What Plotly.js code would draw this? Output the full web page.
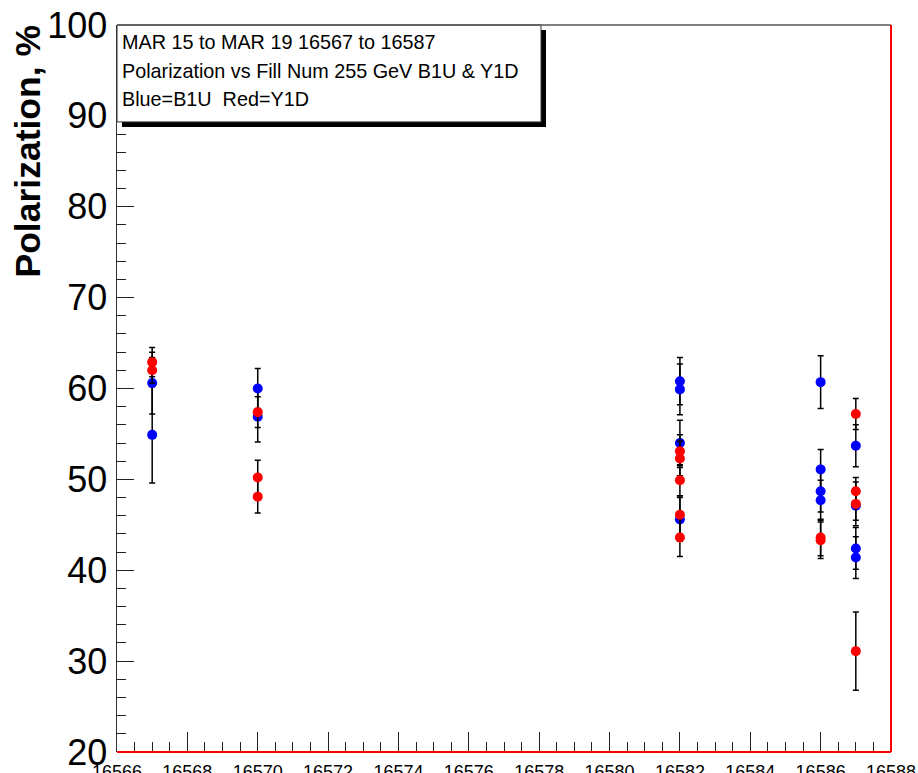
<!DOCTYPE html>
<html>
<head>
<meta charset="utf-8">
<script src="https://cdn.plot.ly/plotly-3.0.1.min.js"></script>
<style>html,body{margin:0;padding:0;background:#fff;}#chart{width:918px;height:773px;}</style>
</head>
<body>
<div id="chart"></div>
<script>
// Blue = B1U
const blueFill = [16567, 16567, 16570, 16570, 16582, 16582, 16582, 16582, 16586, 16586, 16586, 16586, 16587, 16587, 16587, 16587];
const bluePol  = [60.6, 54.9, 60.0, 56.9, 60.8, 59.9, 54.0, 45.6, 60.7, 51.1, 48.7, 47.7, 53.7, 47.1, 42.4, 41.4];
const blueErr  = [3.4, 5.3, 2.2, 2.8, 2.6, 2.8, 2.5, 2.4, 2.9, 2.2, 2.3, 2.2, 2.3, 1.6, 2.3, 2.3];
// Red = Y1D
const redFill = [16567, 16567, 16570, 16570, 16570, 16582, 16582, 16582, 16582, 16582, 16586, 16586, 16587, 16587, 16587, 16587];
const redPol  = [62.9, 62.0, 57.4, 50.2, 48.1, 53.1, 52.3, 49.9, 46.1, 43.6, 43.6, 43.3, 57.2, 48.7, 47.3, 31.1];
const redErr  = [1.6, 1.4, 1.7, 1.9, 1.8, 1.8, 1.9, 1.7, 2.1, 2.1, 2.0, 2.0, 1.7, 1.5, 2.4, 4.3];

const xTickVals = [16566, 16568, 16570, 16572, 16574, 16576, 16578, 16580, 16582, 16584, 16586, 16588];
const yTickVals = [20, 30, 40, 50, 60, 70, 80, 90, 100];
const infoLines = ["MAR 15 to MAR 19 16567 to 16587", "Polarization vs Fill Num 255 GeV B1U & Y1D", "Blue=B1U  Red=Y1D"];
const yTitle = "Polarization, %";

const W = 918, H = 773;
const L = 117, R = 891, T = 25, B = 752.5;
const px = v => (v - L) / (R - L);
const py = v => (B - v) / (B - T);

const font = "Liberation Sans, Arial, sans-serif";

const errStyle = {type: 'data', visible: true, color: '#000', thickness: 1.5, width: 3};

const traces = [
  {x: blueFill, y: bluePol, type: 'scatter', mode: 'markers', name: 'B1U',
   marker: {color: '#0000ff', size: 10}, error_y: Object.assign({array: blueErr}, errStyle)},
  {x: redFill, y: redPol, type: 'scatter', mode: 'markers', name: 'Y1D',
   marker: {color: '#ff0000', size: 10}, error_y: Object.assign({array: redErr}, errStyle)}
];

const lineY = [42.5, 71, 99.5];
const annotations = infoLines.map((t, i) => ({
  text: t, xref: 'paper', yref: 'paper', x: px(120), y: py(lineY[i]),
  xanchor: 'left', yanchor: 'middle', showarrow: false,
  font: {family: font, size: 19.8, color: '#000'}
}));
annotations.push({
  text: '<b>' + yTitle + '</b>', xref: 'paper', yref: 'paper',
  x: px(28), y: py(23), xanchor: 'center', yanchor: 'top', textangle: -90,
  showarrow: false, font: {family: font, size: 35.5, color: '#000'}
});

const shapes = [
  // shadow of info box
  {type: 'rect', xref: 'paper', yref: 'paper', x0: px(122), x1: px(546), y0: py(127), y1: py(30),
   fillcolor: '#000', line: {width: 0}, layer: 'above'},
  // info box
  {type: 'rect', xref: 'paper', yref: 'paper', x0: px(117), x1: px(541), y0: py(122), y1: py(25),
   fillcolor: '#fff', line: {color: '#333', width: 1}, layer: 'above'},
  // top frame
  {type: 'line', xref: 'paper', yref: 'paper', x0: 0, x1: 1, y0: 1, y1: 1,
   line: {color: '#555', width: 1.5}, layer: 'above'},
  // right frame
  {type: 'line', xref: 'paper', yref: 'paper', x0: 1, x1: 1, y0: 0, y1: 1,
   line: {color: '#ff0000', width: 2}, layer: 'above'},
  // bottom frame
  {type: 'line', xref: 'paper', yref: 'paper', x0: 0, x1: 1, y0: 0, y1: 0,
   line: {color: '#ff0000', width: 2}, layer: 'above'}
];

const layout = {
  width: W, height: H,
  margin: {l: L, r: W - R, t: T, b: H - B, pad: 0},
  paper_bgcolor: '#fff', plot_bgcolor: '#fff',
  showlegend: false,
  font: {family: font, color: '#000'},
  xaxis: {
    range: [16566, 16588], tickvals: xTickVals, tickformat: 'd',
    ticks: 'inside', ticklen: 20, tickwidth: 1, tickcolor: '#222',
    minor: {dtick: 0.5, tick0: 16566, ticks: 'inside', ticklen: 10, tickcolor: '#222', tickwidth: 1, showgrid: false},
    showgrid: false, zeroline: false,
    showline: false,
    tickfont: {family: font, size: 18, color: '#000'},
    ticklabelstandoff: 7,
    automargin: false, fixedrange: true
  },
  yaxis: {
    range: [20, 100], tickvals: yTickVals,
    ticks: 'inside', ticklen: 17, tickwidth: 1, tickcolor: '#222',
    minor: {dtick: 2, tick0: 20, ticks: 'inside', ticklen: 9, tickcolor: '#222', tickwidth: 1, showgrid: false},
    showgrid: false, zeroline: false,
    showline: true, linecolor: '#333', linewidth: 1.5,
    tickfont: {family: font, size: 36, color: '#000'},
    ticklabelstandoff: 1,
    automargin: false, fixedrange: true
  },
  annotations: annotations,
  shapes: shapes
};

Plotly.newPlot('chart', traces, layout, {displayModeBar: false, staticPlot: true});
</script>
</body>
</html>
